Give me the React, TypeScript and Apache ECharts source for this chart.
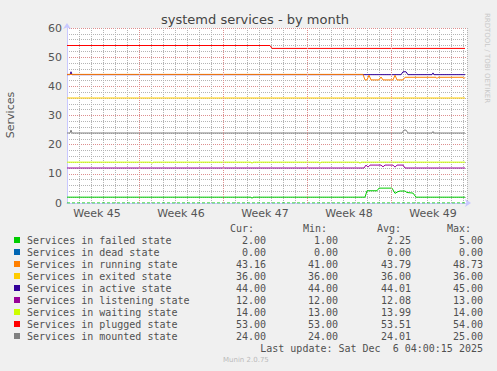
import React, { useEffect, useRef } from "react";
import * as echarts from "echarts";

// x = sample index (2-hour steps) from start of the month view
const weekLabels = ["Week 45", "Week 46", "Week 47", "Week 48", "Week 49"];
const weekLabelPos = [30, 114, 198, 282, 366];
const weekBoundaries = [72, 156, 240, 324];

const failedData: [number, number][] = [[0, 2], [184, 2], [185, 1.6], [186, 2], [298, 2], [300, 4.2], [310, 4.2], [312, 5.1], [325, 5.1], [328, 3.3], [331, 3.9], [333, 4.1], [338, 4.1], [340, 3.6], [346, 3.4], [349, 2], [398, 2]];
const deadData: [number, number][] = [[0, 0], [398, 0]];
const runningData: [number, number][] = [[0, 44.1], [296, 44.1], [298, 42.2], [300, 42.2], [302, 43.8], [304, 42.2], [312, 42.2], [314, 43.2], [316, 42.2], [326, 42.2], [328, 43.8], [330, 42.2], [336, 42.2], [338, 43.1], [369, 43.1], [370, 42.7], [371, 43.1], [396, 43.1], [397, 42.7], [398, 43.1]];
const exitedData: [number, number][] = [[0, 36], [398, 36]];
const activeData: [number, number][] = [[0, 44], [3, 44], [4, 45], [5, 44], [334, 44], [336, 45], [339, 45], [341, 44], [365, 44], [366, 44.6], [367, 44], [398, 44]];
const listeningData: [number, number][] = [[0, 12], [297, 12], [299, 13], [301, 12.3], [303, 13], [314, 13], [316, 12.4], [318, 13], [326, 13], [328, 12.3], [330, 13], [336, 13], [338, 12], [398, 12]];
const waitingData: [number, number][] = [[0, 14], [84, 14], [85, 13.6], [86, 14], [184, 14], [185, 13.6], [186, 14], [252, 14], [253, 13.6], [254, 14], [292, 14], [293, 13.6], [294, 14], [398, 14]];
const pluggedData: [number, number][] = [[0, 54], [203, 54], [205, 53], [398, 53]];
const mountedData: [number, number][] = [[0, 24], [3, 24], [4, 25], [5, 24], [335, 24], [337, 25], [339, 25], [341, 24], [365, 24], [366, 24.5], [367, 24], [398, 24]];

const seriesNames = [
  "Services in failed state",
  "Services in dead state",
  "Services in running state",
  "Services in exited state",
  "Services in active state",
  "Services in listening state",
  "Services in waiting state",
  "Services in plugged state",
  "Services in mounted state",
];
const seriesColors = ["#00CC00", "#0066B3", "#FF8000", "#FFCC00", "#330099", "#990099", "#CCFF00", "#FF0000", "#808080"];
const seriesData = [failedData, deadData, runningData, exitedData, activeData, listeningData, waitingData, pluggedData, mountedData];
const curVals = ["2.00", "0.00", "43.16", "36.00", "44.00", "12.00", "14.00", "53.00", "24.00"];
const minVals = ["1.00", "0.00", "41.00", "36.00", "44.00", "12.00", "13.00", "53.00", "24.00"];
const avgVals = ["2.25", "0.00", "43.79", "36.00", "44.01", "12.08", "13.99", "53.51", "24.01"];
const maxVals = ["5.00", "0.00", "48.73", "36.00", "45.00", "13.00", "14.00", "54.00", "25.00"];
// draw order (later on top)
const drawOrder = [0, 1, 3, 4, 2, 5, 6, 7, 8];

export default function App() {
  const ref = useRef<HTMLDivElement>(null);
  useEffect(() => {
    if (!ref.current) return;
    const chart = echarts.init(ref.current, null, { renderer: "svg" });
    const mono = "DejaVu Sans Mono";
    const sans = "DejaVu Sans";
    const txt = "#505050";
    const legendGraphics: any[] = [];
    const headers = [["Cur:", 230], ["Min:", 303], ["Avg:", 377], ["Max:", 447]] as const;
    headers.forEach(([t, x]) => {
      legendGraphics.push({ type: "text", x, y: 228, style: { text: t, font: `10px '${mono}'`, fill: txt, textVerticalAlign: "middle" } });
    });
    seriesNames.forEach((name, i) => {
      const y = 240 + i * 12;
      legendGraphics.push({ type: "rect", shape: { x: 14, y: y - 3, width: 6, height: 6 }, style: { fill: seriesColors[i] } });
      legendGraphics.push({ type: "text", x: 27, y, style: { text: name, font: `10px '${mono}'`, fill: txt, textVerticalAlign: "middle" } });
      const cols = [[curVals, 266], [minVals, 338], [avgVals, 411], [maxVals, 483]] as const;
      cols.forEach(([arr, x]) => {
        legendGraphics.push({ type: "text", x, y, style: { text: arr[i], font: `10px '${mono}'`, fill: txt, textAlign: "right", textVerticalAlign: "middle" } });
      });
    });
    legendGraphics.push({ type: "text", x: 483, y: 348, style: { text: "Last update: Sat Dec  6 04:00:15 2025", font: `10px '${mono}'`, fill: txt, textAlign: "right", textVerticalAlign: "middle" } });
    legendGraphics.push({ type: "text", x: 223, y: 360, style: { text: "Munin 2.0.75", font: `7px '${sans}'`, fill: "#bbb", textVerticalAlign: "middle" } });
    legendGraphics.push({ type: "text", x: 255, y: 19, style: { text: "systemd services - by month", font: `13px '${sans}'`, fill: "#444", textAlign: "center", textVerticalAlign: "middle" } });
    legendGraphics.push({ type: "text", x: 10, y: 115, rotation: Math.PI / 2, style: { text: "Services", font: `11px '${sans}'`, fill: "#555", textAlign: "center", textVerticalAlign: "middle" } });
    legendGraphics.push({ type: "text", x: 487, y: 58, rotation: -Math.PI / 2, style: { text: "RRDTOOL / TOBI OETIKER", font: `7px '${sans}'`, fill: "#c8c8c8", textAlign: "center", textVerticalAlign: "middle" } });

    const series: any[] = drawOrder.map((i) => ({
      name: seriesNames[i],
      type: "line",
      xAxisIndex: 0,
      data: seriesData[i],
      showSymbol: false,
      symbol: "none",
      color: seriesColors[i],
      lineStyle: i === 1 ? { width: 1, color: "#00CC00", type: [3, 2] } : { width: 1, color: seriesColors[i] },
      z: 3,
    }));
    series.unshift({
      type: "line",
      data: [],
      xAxisIndex: 0,
      markLine: {
        silent: true,
        symbol: "none",
        label: { show: false },
        lineStyle: { color: "#dd8e8e", type: [1, 1], width: 1 },
        data: weekBoundaries.map((x) => ({ xAxis: x })),
      },
      z: 1,
    });

    chart.setOption({
      animation: false,
      backgroundColor: "#f0f0f0",
      grid: { left: 67, right: 30, top: 28, bottom: 168, show: true, backgroundColor: "#ffffff", borderWidth: 0 },
      graphic: legendGraphics,
      xAxis: [
        {
          type: "value",
          min: 0,
          max: 400,
          interval: 12,
          axisLabel: { show: false },
          axisTick: { show: false },
          axisLine: { show: true, lineStyle: { color: "#c8c8ff", width: 1 }, symbol: ["none", "arrow"], symbolSize: [6, 6], symbolOffset: [0, 4] },
          splitLine: { show: true, lineStyle: { color: "#b4b4b4", type: [1, 1], width: 1 } },
        },
        {
          type: "value",
          min: 0,
          max: 400,
          interval: 6,
          position: "bottom",
          axisLine: { show: false },
          axisTick: { show: false },
          splitLine: { show: false },
          axisLabel: {
            show: true,
            margin: 5,
            color: "#555",
            fontFamily: sans,
            fontSize: 11,
            showMinLabel: false,
            showMaxLabel: false,
            formatter: (v: number) => {
              const k = weekLabelPos.indexOf(Math.round(v));
              return k >= 0 ? weekLabels[k] : "";
            },
          },
        },
      ],
      yAxis: {
        type: "value",
        min: 0,
        max: 60,
        interval: 10,
        axisLine: { show: true, lineStyle: { color: "#c8c8ff", width: 1 }, symbol: ["none", "arrow"], symbolSize: [6, 6], symbolOffset: [0, 5] },
        axisTick: { show: false },
        axisLabel: { color: "#555", fontFamily: sans, fontSize: 11, margin: 5 },
        splitLine: { show: true, lineStyle: { color: "#dd8e8e", type: [1, 1], width: 1 } },
        minorTick: { show: false, splitNumber: 5 },
        minorSplitLine: { show: true, lineStyle: { color: "#b4b4b4", type: [1, 1], width: 1 } },
      },
      series,
    });
    return () => chart.dispose();
  }, []);
  return <div ref={ref} style={{ position: "fixed", left: 0, top: 0, width: 497, height: 371 }} />;
}
